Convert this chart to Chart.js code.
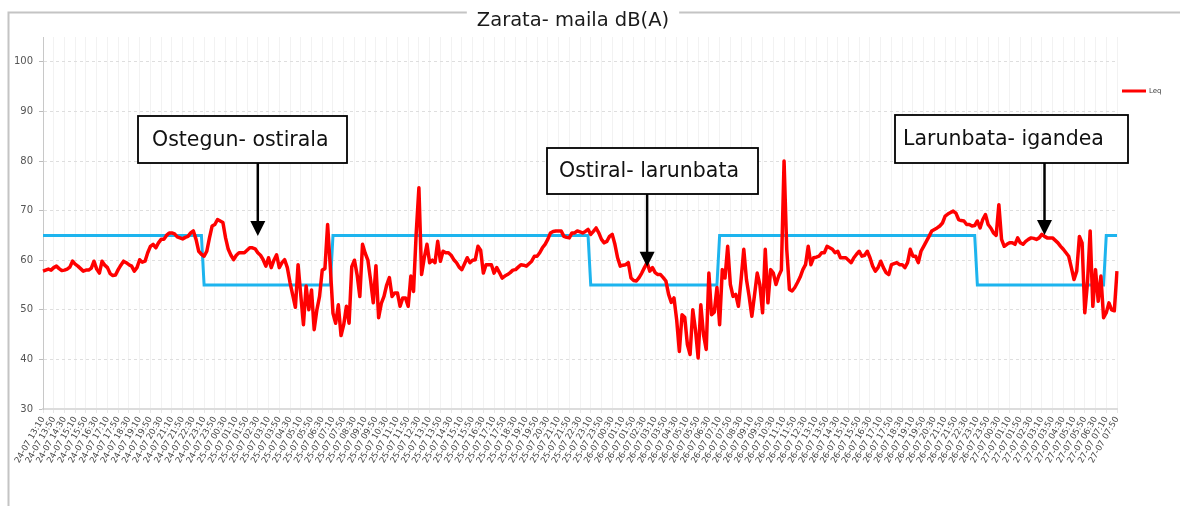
<!DOCTYPE html>
<html>
<head>
<meta charset="utf-8">
<title>Zarata- maila dB(A)</title>
<script src="https://cdn.jsdelivr.net/npm/chart.js@4.4.1/dist/chart.umd.min.js"></script>
<style>
  html, body { margin: 0; padding: 0; background: #fff; }
  #wrap { width: 1180px; height: 506px; }
</style>
</head>
<body>
<div id="wrap"><canvas id="myChart" width="1180" height="506"></canvas></div>
<script>
const titleText = 'Zarata- maila dB(A)';

// one tick label every 40 minutes (every 4th reading)
const tickLabels = [
  '24-07 13:10','24-07 13:50','24-07 14:30','24-07 15:10','24-07 15:50','24-07 16:30','24-07 17:10','24-07 17:50','24-07 18:30','24-07 19:10',
  '24-07 19:50','24-07 20:30','24-07 21:10','24-07 21:50','24-07 22:30','24-07 23:10','24-07 23:50',
  '25-07 00:30','25-07 01:10','25-07 01:50','25-07 02:30','25-07 03:10','25-07 03:50','25-07 04:30','25-07 05:10','25-07 05:50','25-07 06:30',
  '25-07 07:10','25-07 07:50','25-07 08:30','25-07 09:10','25-07 09:50','25-07 10:30','25-07 11:10','25-07 11:50','25-07 12:30','25-07 13:10',
  '25-07 13:50','25-07 14:30','25-07 15:10','25-07 15:50','25-07 16:30','25-07 17:10','25-07 17:50','25-07 18:30','25-07 19:10','25-07 19:50',
  '25-07 20:30','25-07 21:10','25-07 21:50','25-07 22:30','25-07 23:10','25-07 23:50',
  '26-07 00:30','26-07 01:10','26-07 01:50','26-07 02:30','26-07 03:10','26-07 03:50','26-07 04:30','26-07 05:10','26-07 05:50','26-07 06:30',
  '26-07 07:10','26-07 07:50','26-07 08:30','26-07 09:10','26-07 09:50','26-07 10:30','26-07 11:10','26-07 11:50','26-07 12:30','26-07 13:10',
  '26-07 13:50','26-07 14:30','26-07 15:10','26-07 15:50','26-07 16:30','26-07 17:10','26-07 17:50','26-07 18:30','26-07 19:10','26-07 19:50',
  '26-07 20:30','26-07 21:10','26-07 21:50','26-07 22:30','26-07 23:10','26-07 23:50',
  '27-07 00:30','27-07 01:10','27-07 01:50','27-07 02:30','27-07 03:10','27-07 03:50','27-07 04:30','27-07 05:10','27-07 05:50','27-07 06:30',
  '27-07 07:10','27-07 07:50'
];

// Leq, one reading every 10 minutes
const leq = [
  57.8, 58.0, 58.2, 58.0, 58.5, 58.8, 58.3, 57.9, 58.0, 58.2,
  58.6, 59.8, 59.2, 58.8, 58.3, 57.8, 58.0, 58.0, 58.4, 59.8,
  58.2, 57.4, 59.8, 59.0, 58.5, 57.3, 56.9, 57.0, 58.1, 59.0,
  59.8, 59.5, 59.1, 58.8, 57.8, 58.5, 60.1, 59.6, 59.8, 61.5,
  62.8, 63.2, 62.5, 63.5, 64.2, 64.2, 65.0, 65.5, 65.5, 65.3,
  64.7, 64.5, 64.3, 64.6, 64.8, 65.5, 65.9, 64.2, 61.8, 61.2,
  60.8, 61.8, 64.5, 66.9, 67.2, 68.2, 67.9, 67.6, 64.5, 62.2,
  61.0, 60.1, 61.0, 61.5, 61.5, 61.5, 62.0, 62.5, 62.5, 62.3,
  61.5, 61.0, 60.1, 58.8, 60.5, 58.5, 60.0, 61.1, 58.5, 59.5,
  60.1, 58.5, 55.5, 53.0, 50.5, 59.1, 53.0, 47.0, 54.8, 50.0,
  54.0, 46.0, 50.0, 52.7, 58.0, 58.3, 67.2, 58.7, 49.3, 47.3,
  51.0, 44.8, 47.0, 50.7, 47.3, 58.7, 60.0, 57.0, 52.7, 63.2,
  61.4, 60.0, 56.0, 51.4, 58.9, 48.4, 51.3, 52.7, 55.0, 56.5,
  52.7, 53.4, 53.4, 50.7, 52.4, 52.4, 50.7, 56.8, 53.7, 65.5,
  74.6, 57.1, 60.5, 63.2, 59.5, 60.0, 59.5, 63.8, 59.8, 61.8,
  61.5, 61.5, 61.0, 60.1, 59.5, 58.6, 58.1, 59.3, 60.5, 59.5,
  60.0, 60.1, 62.8, 62.0, 57.4, 59.1, 59.1, 59.1, 57.4, 58.5,
  57.5, 56.4, 56.8, 57.1, 57.5, 58.0, 58.1, 58.6, 59.1, 59.0,
  58.8, 59.3, 59.8, 60.8, 60.8, 61.5, 62.5, 63.2, 64.2, 65.5,
  65.8, 65.9, 65.9, 65.9, 64.8, 64.6, 64.5, 65.5, 65.5, 65.9,
  65.7, 65.5, 65.8, 66.2, 65.2, 65.8, 66.5, 65.5, 64.2, 63.5,
  63.8, 64.8, 65.2, 63.2, 60.5, 58.8, 59.0, 59.1, 59.5, 56.4,
  55.9, 55.8, 56.5, 57.4, 58.5, 59.5, 57.8, 58.5, 57.5, 57.1,
  57.1, 56.5, 55.8, 53.1, 51.5, 52.4, 48.0, 41.6, 49.0, 48.5,
  43.0, 41.0, 50.0, 46.0, 40.3, 51.0, 45.0, 42.0, 57.4, 49.0,
  49.5, 54.5, 47.0, 58.1, 56.4, 62.8, 55.1, 52.7, 53.1, 50.7,
  56.1, 62.2, 56.1, 52.7, 48.7, 53.0, 57.4, 55.0, 49.4, 62.2,
  51.4, 58.1, 57.4, 55.1, 56.8, 58.0, 80.0, 62.2, 54.1, 53.8,
  54.5, 55.5, 56.6, 58.1, 59.1, 62.8, 59.1, 60.5, 60.6, 60.8,
  61.5, 61.5, 62.8, 62.5, 62.2, 61.5, 61.8, 60.5, 60.5, 60.5,
  60.0, 59.5, 60.5, 61.2, 61.8, 60.8, 61.0, 61.8, 60.5, 58.8,
  57.8, 58.5, 59.8, 58.5, 57.5, 57.1, 59.1, 59.3, 59.5, 59.1,
  59.1, 58.5, 59.5, 62.2, 60.8, 60.8, 59.5, 61.8, 62.8, 63.8,
  64.8, 65.9, 66.2, 66.5, 66.9, 67.5, 68.9, 69.3, 69.6, 69.9,
  69.5, 68.2, 68.0, 67.9, 67.2, 67.2, 66.9, 67.0, 67.9, 66.5,
  68.2, 69.2, 67.2, 66.5, 65.5, 65.0, 71.2, 64.2, 62.8, 63.2,
  63.5, 63.5, 63.2, 64.5, 63.5, 63.2, 63.8, 64.2, 64.5, 64.4,
  64.2, 64.5, 65.2, 64.8, 64.5, 64.5, 64.5, 64.0, 63.5, 62.8,
  62.2, 61.5, 60.8, 58.5, 56.1, 57.8, 64.8, 63.5, 49.4, 55.4,
  65.9, 50.7, 58.1, 51.7, 56.8, 48.4, 49.4, 51.4, 50.0, 49.8,
  57.8
];

// day / night limit: corners of the step line (reading index, dB)
const limitIdx = [0, 59, 60, 107, 108, 203, 204, 251, 252, 347, 348, 395, 396, 400];
const limitDb  = [65, 65, 55, 55, 65, 65, 55, 55, 65, 65, 55, 55, 65, 65];

// callouts: text and the reading the arrow points at
const notes   = ['Ostegun- ostirala', 'Ostiral- larunbata', 'Larunbata- igandea'];
const noteIdx = [80, 225, 373];
const noteDb  = [64.9, 58.7, 65.1];

// callout box placement (pixels)
const noteBoxes = [
  { left: 138, top: 116, w: 209, h: 47, pad: 14 },
  { left: 547, top: 148, w: 211, h: 46, pad: 12 },
  { left: 895, top: 115, w: 233, h: 48, pad: 8 }
];

const categories = leq.map((v, i) => i);

const decor = {
  id: 'decor',
  beforeDraw: (chart) => {
    const ctx = chart.ctx;
    ctx.save();
    ctx.fillStyle = 'white';
    ctx.fillRect(0, 0, chart.width, chart.height);
    // outer frame
    ctx.strokeStyle = '#c4c4c4';
    ctx.lineWidth = 2;
    ctx.beginPath();
    ctx.moveTo(8.5, chart.height);
    ctx.lineTo(8.5, 12.5);
    ctx.lineTo(chart.width, 12.5);
    ctx.stroke();
    // title sitting in a gap of the frame
    ctx.font = '19.5px "DejaVu Sans"';
    const tw = ctx.measureText(titleText).width;
    ctx.fillStyle = 'white';
    ctx.fillRect(573 - tw / 2 - 10, 2, tw + 20, 22);
    ctx.fillStyle = '#1a1a1a';
    ctx.textAlign = 'center';
    ctx.textBaseline = 'middle';
    ctx.fillText(titleText, 573, 21);
    ctx.restore();
  },
  afterDatasetsDraw: (chart) => {
    const ctx = chart.ctx;
    const xs = chart.scales.x, ys = chart.scales.y;
    ctx.save();
    notes.forEach((txt, k) => {
      const b = noteBoxes[k];
      const tx = xs.getPixelForValue(noteIdx[k]);
      const ty = ys.getPixelForValue(noteDb[k]);
      ctx.strokeStyle = '#000';
      ctx.fillStyle = '#000';
      ctx.lineWidth = 2.5;
      ctx.beginPath();
      ctx.moveTo(tx, b.top + b.h);
      ctx.lineTo(tx, ty - 10);
      ctx.stroke();
      ctx.beginPath();
      ctx.moveTo(tx - 7.5, ty - 15);
      ctx.lineTo(tx + 7.5, ty - 15);
      ctx.lineTo(tx, ty);
      ctx.closePath();
      ctx.fill();
      ctx.fillStyle = 'white';
      ctx.fillRect(b.left, b.top, b.w, b.h);
      ctx.lineWidth = 1.8;
      ctx.strokeRect(b.left, b.top, b.w, b.h);
      ctx.fillStyle = '#111';
      ctx.font = '20.5px "DejaVu Sans"';
      ctx.textAlign = 'left';
      ctx.textBaseline = 'middle';
      ctx.fillText(txt, b.left + b.pad, b.top + b.h / 2 + 1);
    });
    ctx.restore();
  },
  afterDraw: (chart) => {
    // legend (only Leq is listed)
    const ctx = chart.ctx;
    ctx.save();
    ctx.strokeStyle = '#ff0000';
    ctx.lineWidth = 3;
    ctx.beginPath();
    ctx.moveTo(1122, 91);
    ctx.lineTo(1146, 91);
    ctx.stroke();
    ctx.fillStyle = '#444';
    ctx.font = '7px "DejaVu Sans"';
    ctx.textAlign = 'left';
    ctx.textBaseline = 'middle';
    ctx.fillText('Leq', 1149, 91);
    ctx.restore();
  }
};

Chart.defaults.font.family = '"DejaVu Sans"';

const ctx = document.getElementById('myChart').getContext('2d');
const myChart = new Chart(ctx, {
  type: 'line',
  plugins: [decor],
  data: {
    labels: categories,
    datasets: [{
      label: 'Leq',
      data: leq,
      borderColor: '#ff0000',
      borderWidth: 3.5,
      pointRadius: 0,
      tension: 0,
      borderJoinStyle: 'round'
    }, {
      label: 'Muga',
      data: limitIdx.map((x, i) => ({ x: x, y: limitDb[i] })),
      borderColor: '#1db4ee',
      borderWidth: 3,
      pointRadius: 0,
      tension: 0
    }]
  },
  options: {
    responsive: false,
    animation: false,
    layout: { padding: { left: 0, right: 63, top: 37, bottom: 0 } },
    plugins: {
      legend: { display: false },
      title: { display: false },
      tooltip: { enabled: false }
    },
    scales: {
      x: {
        type: 'category',
        afterFit: (s) => { s.height = 97; },
        grid: { color: '#f2f2f2', lineWidth: 1, tickLength: 4, tickColor: '#e6e6e6' },
        border: { color: '#dcdcdc', width: 2 },
        ticks: {
          autoSkip: false,
          minRotation: 60,
          maxRotation: 60,
          padding: 2,
          color: '#444',
          font: { size: 8.5 },
          callback: (v) => v % 4 === 0 ? tickLabels[v / 4] : null
        }
      },
      y: {
        min: 30,
        max: 105,
        afterFit: (s) => { s.width = 43; },
        afterBuildTicks: (s) => { s.ticks = s.ticks.filter(t => t.value % 10 === 0); },
        grid: { color: '#dedede', tickColor: '#bdbdbd', tickLength: 4 },
        border: { color: '#c8c8c8', width: 1, dash: [3, 3] },
        ticks: { stepSize: 10, padding: 6, color: '#555', font: { size: 10 } }
      }
    }
  }
});
</script>
</body>
</html>
